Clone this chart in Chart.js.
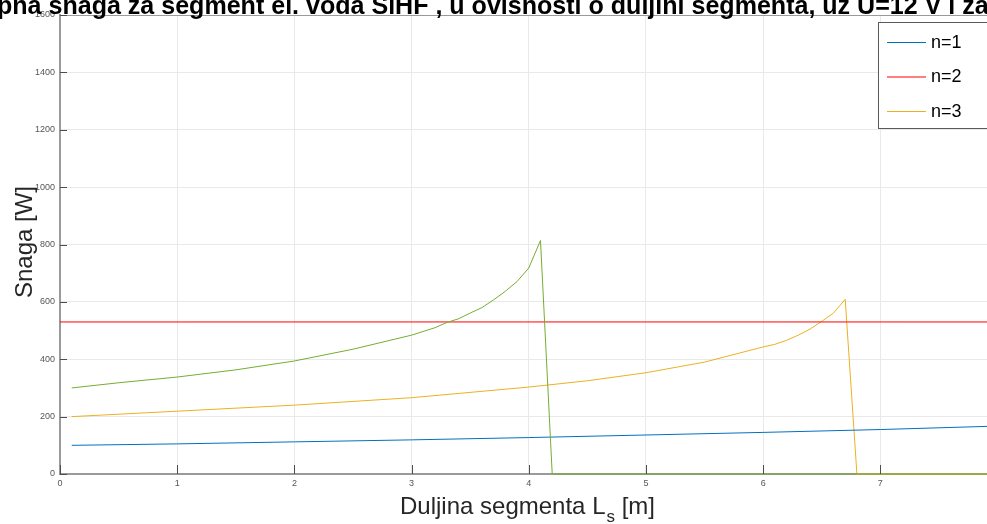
<!DOCTYPE html>
<html>
<head>
<meta charset="utf-8">
<script src="https://cdn.jsdelivr.net/npm/chart.js"></script>
<style>
  body { margin: 0; background: #fff; }
  canvas { display: block; }
</style>
</head>
<body>
<canvas id="grafico" width="987" height="524"></canvas>
<script>
// duljina segmenta [m] i snaga [W], ocitano sa slike
const duljinaN1 = [0.1, 1, 2, 3, 4, 5, 6, 7, 7.91];
const snagaN1 = [100, 105, 112, 119, 127, 136, 145, 155, 166];

const duljinaN2 = [0, 7.91];
const snagaN2 = [530, 530];

const duljinaN3 = [0.1, 1, 2, 3, 4, 4.5, 5, 5.5, 6, 6.1, 6.2, 6.3, 6.4, 6.5, 6.6, 6.7, 6.8, 7.91];
const snagaN3 = [200, 219, 240, 266, 303, 325, 353, 390, 443, 452, 466, 484, 505, 532, 561, 609, 0, 0];

// zelena krivulja nema svoj unos u legendi
const duljinaN4 = [0.1, 0.5, 1, 1.5, 2, 2.5, 3, 3.2, 3.3, 3.4, 3.5, 3.6, 3.7, 3.8, 3.9, 4, 4.1, 4.2, 7.91];
const snagaN4 = [300, 318, 338, 363, 394, 435, 484, 510, 528, 541, 561, 580, 607, 637, 671, 718, 814, 0, 0];

const xOznake = [0, 1, 2, 3, 4, 5, 6, 7];
const yOznake = [0, 200, 400, 600, 800, 1000, 1200, 1400, 1600];

const naslov = 'pna snaga za segment el. voda SiHF , u ovisnosti o duljini segmenta, uz U=12 V i za';

let grafico;

function tocke(xs, ys) {
  return xs.map((x, i) => ({ x: x, y: ys[i] }));
}

// naslovi, unutarnje crtice i legenda (kao u MATLAB-u)
const dodaci = {
  id: 'dodaci',
  afterDraw(chart) {
    const ctx = chart.ctx;
    const a = chart.chartArea;
    const sx = chart.scales.x;
    const sy = chart.scales.y;
    ctx.save();

    // crtice prema unutra
    ctx.strokeStyle = '#4d4d4d';
    ctx.lineWidth = 1;
    ctx.beginPath();
    xOznake.forEach(v => {
      const px = Math.round(sx.getPixelForValue(v)) + 0.5;
      ctx.moveTo(px, a.bottom);
      ctx.lineTo(px, a.bottom - 9);
    });
    yOznake.forEach(v => {
      const py = Math.round(sy.getPixelForValue(v)) + 0.5;
      ctx.moveTo(a.left, py);
      ctx.lineTo(a.left + 7, py);
    });
    ctx.stroke();

    // glavni naslov (odrezan na vrhu)
    ctx.fillStyle = '#000';
    ctx.font = 'bold 20px "Liberation Sans", Arial';
    const w = ctx.measureText(naslov).width;
    const vel = 20 * 992 / w;
    ctx.font = 'bold ' + vel.toFixed(2) + 'px "Liberation Sans", Arial';
    ctx.textAlign = 'left';
    ctx.textBaseline = 'alphabetic';
    ctx.fillText(naslov, -3, 14);

    // naslov osi y
    ctx.fillStyle = '#262626';
    ctx.font = '24px "Liberation Sans", Arial';
    ctx.save();
    ctx.translate(32, 242);
    ctx.rotate(-Math.PI / 2);
    ctx.textAlign = 'center';
    ctx.fillText('Snaga [W]', 0, 0);
    ctx.restore();

    // naslov osi x s indeksom
    const dio1 = 'Duljina segmenta L';
    const dio2 = 's';
    const dio3 = ' [m]';
    ctx.font = '24px "Liberation Sans", Arial';
    const w1 = ctx.measureText(dio1).width;
    const w3 = ctx.measureText(dio3).width;
    ctx.font = '17px "Liberation Sans", Arial';
    const w2 = ctx.measureText(dio2).width;
    let x0 = 527 - (w1 + w2 + w3) / 2;
    ctx.textAlign = 'left';
    ctx.font = '24px "Liberation Sans", Arial';
    ctx.fillText(dio1, x0, 514);
    ctx.font = '17px "Liberation Sans", Arial';
    ctx.fillText(dio2, x0 + w1 + 1, 522);
    ctx.font = '24px "Liberation Sans", Arial';
    ctx.fillText(dio3, x0 + w1 + w2 + 1, 514);

    // legenda
    const lx = 878.5, ly = 22.5;
    ctx.fillStyle = '#fff';
    ctx.fillRect(lx, ly, 120, 106);
    ctx.strokeStyle = '#5a5a5a';
    ctx.strokeRect(lx, ly, 120, 106);
    ctx.font = '18px "Liberation Sans", Arial';
    ctx.textBaseline = 'middle';
    chart.data.datasets.slice(0, 3).forEach((ds, i) => {
      const y = 42 + i * 34.5;
      ctx.strokeStyle = ds.borderColor;
      ctx.lineWidth = 1;
      ctx.beginPath();
      ctx.moveTo(887, y + 0.5);
      ctx.lineTo(926, y + 0.5);
      ctx.stroke();
      ctx.fillStyle = '#000';
      ctx.fillText(ds.label, 931, y + 1);
    });
    ctx.restore();
  }
};

function nacrtajGrafikon() {
  const ctx = document.getElementById('grafico').getContext('2d');
  if (grafico) {
    grafico.destroy();
  }

  const linija = (label, xs, ys, boja, red) => ({
    label: label,
    data: tocke(xs, ys),
    borderColor: boja,
    borderWidth: 1,
    pointRadius: 0,
    tension: 0,
    fill: false,
    clip: 3,
    order: red
  });

  const tickFont = { family: '"Liberation Sans", Arial', size: 9 };

  grafico = new Chart(ctx, {
    type: 'line',
    data: {
      datasets: [
        linija('n=1', duljinaN1, snagaN1, '#0072BD', 1),
        linija('n=2', duljinaN2, snagaN2, '#FF0000', 1),
        linija('n=3', duljinaN3, snagaN3, '#EDB120', 1),
        linija('', duljinaN4, snagaN4, '#77AC30', 0)
      ]
    },
    options: {
      responsive: false,
      animation: false,
      layout: { padding: { top: 15, right: 0, left: 0, bottom: 0 } },
      plugins: {
        legend: { display: false },
        title: { display: false },
        tooltip: { enabled: false }
      },
      scales: {
        x: {
          type: 'linear',
          min: 0,
          max: 7.91,
          afterFit(s) { s.height = 50; },
          afterBuildTicks(s) { s.ticks = xOznake.map(v => ({ value: v })); },
          grid: { color: '#e9e9e9', drawTicks: false },
          border: { color: '#9a9a9a', width: 2 },
          ticks: { font: tickFont, color: '#555', padding: 4, maxRotation: 0, callback: v => String(v) }
        },
        y: {
          min: 0,
          max: 1600,
          afterFit(s) { s.width = 60; },
          afterBuildTicks(s) { s.ticks = yOznake.map(v => ({ value: v })); },
          grid: {
            color: c => (c.tick && c.tick.value === 1600 ? '#9a9a9a' : '#e9e9e9'),
            drawTicks: false
          },
          border: { color: '#9a9a9a', width: 2 },
          ticks: { font: tickFont, color: '#555', padding: 5, callback: v => String(v) }
        }
      }
    },
    plugins: [dodaci]
  });
}

window.addEventListener('DOMContentLoaded', nacrtajGrafikon);
</script>
</body>
</html>
